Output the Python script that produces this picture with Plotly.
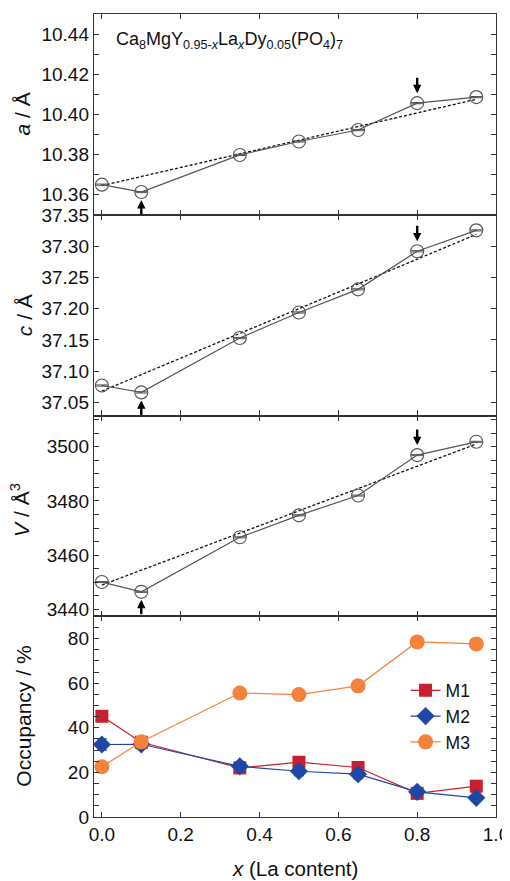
import plotly.graph_objects as go
from plotly.subplots import make_subplots

# ---- data ----
x_la = [0.0, 0.1, 0.35, 0.5, 0.65, 0.8, 0.95]
a_vals = [10.3650, 10.3613, 10.3798, 10.3865, 10.3922, 10.4056, 10.4086]
c_vals = [37.077, 37.066, 37.153, 37.194, 37.231, 37.292, 37.3255]
V_vals = [3450.1, 3446.5, 3466.6, 3474.7, 3482.0, 3496.9, 3501.8]
a_err = [0.0003] * 7
c_err = [0.001] * 7
V_err = [0.2] * 7

fit_x = [0.0, 0.95]
fit_a = [10.3645, 10.4075]
fit_c = [37.068, 37.319]
fit_V = [3449.0, 3501.0]

M1 = [45.2, 33.5, 22.0, 24.6, 22.2, 10.6, 13.8]
M2 = [32.5, 32.6, 22.7, 20.5, 19.2, 11.3, 8.6]
M2_err = [2.5, 2.0, 2.0, 2.0, 2.0, 1.5, 1.5]
M3 = [22.5, 33.7, 55.6, 54.9, 58.8, 78.5, 77.6]

x_ticks = [0.0, 0.2, 0.4, 0.6, 0.8, 1.0]
x_ticklabels = ["0.0", "0.2", "0.4", "0.6", "0.8", "1.0"]

y_titles = ["<i>a</i> / Å", "<i>c</i> / Å", "<i>V</i> / Å<sup>3</sup>", "Occupancy / %"]
x_title = "<i>x</i> (La content)"

FONT = "Arial, Liberation Sans, Helvetica, sans-serif"
GRAY = "#555555"
AX = "#333333"
RED = "#c8202e"
BLUE = "#1f48a6"
ORANGE = "#f5823a"

fig = make_subplots(rows=4, cols=1, shared_xaxes=True, vertical_spacing=0)

for row, vals, err, fit in [(1, a_vals, a_err, fit_a), (2, c_vals, c_err, fit_c), (3, V_vals, V_err, fit_V)]:
    fig.add_trace(go.Scatter(x=fit_x, y=fit, mode="lines",
                             line=dict(color="#111111", width=1.3, dash="3px,2px"),
                             showlegend=False, hoverinfo="skip"), row=row, col=1)
    fig.add_trace(go.Scatter(x=x_la, y=vals, mode="lines+markers",
                             line=dict(color=GRAY, width=1.2),
                             marker=dict(symbol="circle-open", size=13, color=GRAY,
                                         line=dict(width=1.1, color=GRAY)),
                             error_y=dict(type="data", array=err, visible=True,
                                          color=GRAY, thickness=1, width=6),
                             showlegend=False), row=row, col=1)

fig.add_trace(go.Scatter(x=x_la, y=M1, mode="lines+markers", name="M1",
                         line=dict(color=RED, width=1.2),
                         marker=dict(symbol="square", size=13, color=RED),
                         ), row=4, col=1)
fig.add_trace(go.Scatter(x=x_la, y=M2, mode="lines+markers", name="M2",
                         line=dict(color=BLUE, width=1.2),
                         marker=dict(symbol="diamond", size=14, color=BLUE),
                         error_y=dict(type="data", array=M2_err, visible=True,
                                      color=BLUE, thickness=1.2, width=5),
                         ), row=4, col=1)
fig.add_trace(go.Scatter(x=x_la, y=M3, mode="lines+markers", name="M3",
                         line=dict(color=ORANGE, width=1.2),
                         marker=dict(symbol="circle", size=15, color=ORANGE),
                         ), row=4, col=1)

axis_common = dict(showline=True, linecolor=AX, linewidth=1.4, mirror="ticks",
                   ticks="inside", ticklen=5, tickwidth=1.1, tickcolor=AX,
                   showgrid=False, zeroline=False, automargin=False,
                   tickfont=dict(family=FONT, size=19, color="#111111"))

for r in range(1, 5):
    fig.update_xaxes(range=[-0.02, 1.0], tickvals=x_ticks, ticktext=x_ticklabels,
                     showticklabels=(r == 4), row=r, col=1, **axis_common)

minor = dict(ticks="inside", ticklen=5, tickwidth=1.1, tickcolor=AX, showgrid=False)

fig.update_yaxes(range=[10.35, 10.45], tick0=10.36, dtick=0.02, tickformat=".2f",
                 minor=dict(dtick=0.01, tick0=10.35, **minor), row=1, col=1, **axis_common)
fig.update_yaxes(range=[37.029, 37.3505], tick0=37.05, dtick=0.05, tickformat=".2f",
                 row=2, col=1, **axis_common)
fig.update_yaxes(range=[3437.5, 3511.5], tick0=3440, dtick=20,
                 minor=dict(dtick=5, tick0=3440, **minor), row=3, col=1, **axis_common)
fig.update_yaxes(range=[0, 90], tick0=0, dtick=20,
                 minor=dict(dtick=5, tick0=0, **minor), row=4, col=1, **axis_common)

title_font = dict(family=FONT, size=21, color="#111111")

# y-axis titles as rotated annotations centred on each panel
y_title_pos = [(-0.179, 0.5), (-0.174, 0.5), (-0.184, 0.53), (-0.174, 0.5)]
for i, (txt, (px, py)) in enumerate(zip(y_titles, y_title_pos)):
    yref = "y domain" if i == 0 else f"y{i + 1} domain"
    fig.add_annotation(xref="paper", yref=yref, x=px, y=py, text=txt,
                       textangle=-90, showarrow=False, xanchor="center",
                       yanchor="middle", font=title_font)

# x-axis title placed as a paper annotation below the bottom panel
fig.add_annotation(xref="paper", yref="paper", x=0.5, y=-0.064,
                   xanchor="center", yanchor="middle", showarrow=False,
                   text=x_title, font=dict(family=FONT, size=20.5, color="#111111"))

# arrows marking the x = 0.1 and x = 0.8 points
for row, vals in [(1, a_vals), (2, c_vals), (3, V_vals)]:
    yref = "y" if row == 1 else f"y{row}"
    xref = "x" if row == 1 else f"x{row}"
    fig.add_annotation(x=x_la[5], y=vals[5], xref=xref, yref=yref, text="",
                       showarrow=True, arrowhead=2, arrowsize=0.7, arrowwidth=2.4,
                       arrowcolor="#000000", ax=0, ay=-27, standoff=10)
    fig.add_annotation(x=x_la[1], y=vals[1], xref=xref, yref=yref, text="",
                       showarrow=True, arrowhead=2, arrowsize=0.7, arrowwidth=2.4,
                       arrowcolor="#000000", ax=0, ay=24, standoff=8)

fig.add_annotation(xref="paper", yref="paper", x=0.05, y=0.9676,
                   xanchor="left", yanchor="middle", showarrow=False,
                   text="Ca<sub>8</sub>MgY<sub>0.95-<i>x</i></sub>La<sub><i>x</i></sub>Dy<sub>0.05</sub>(PO<sub>4</sub>)<sub>7</sub>",
                   font=dict(family=FONT, size=18, color="#111111"))

# the page body adds an 8 px offset; margins compensate so the plot sits where it should
fig.update_layout(
    width=510, height=881,
    margin=dict(l=86, r=22, t=6, b=72, autoexpand=False),
    paper_bgcolor="white", plot_bgcolor="white",
    font=dict(family=FONT, color="#111111"),
    showlegend=True,
    legend=dict(x=0.775, y=0.18, xanchor="left", yanchor="top",
                bgcolor="rgba(0,0,0,0)", font=dict(family=FONT, size=17.5),
                itemwidth=30, tracegroupgap=0),
)

fig.write_html("out.html")
